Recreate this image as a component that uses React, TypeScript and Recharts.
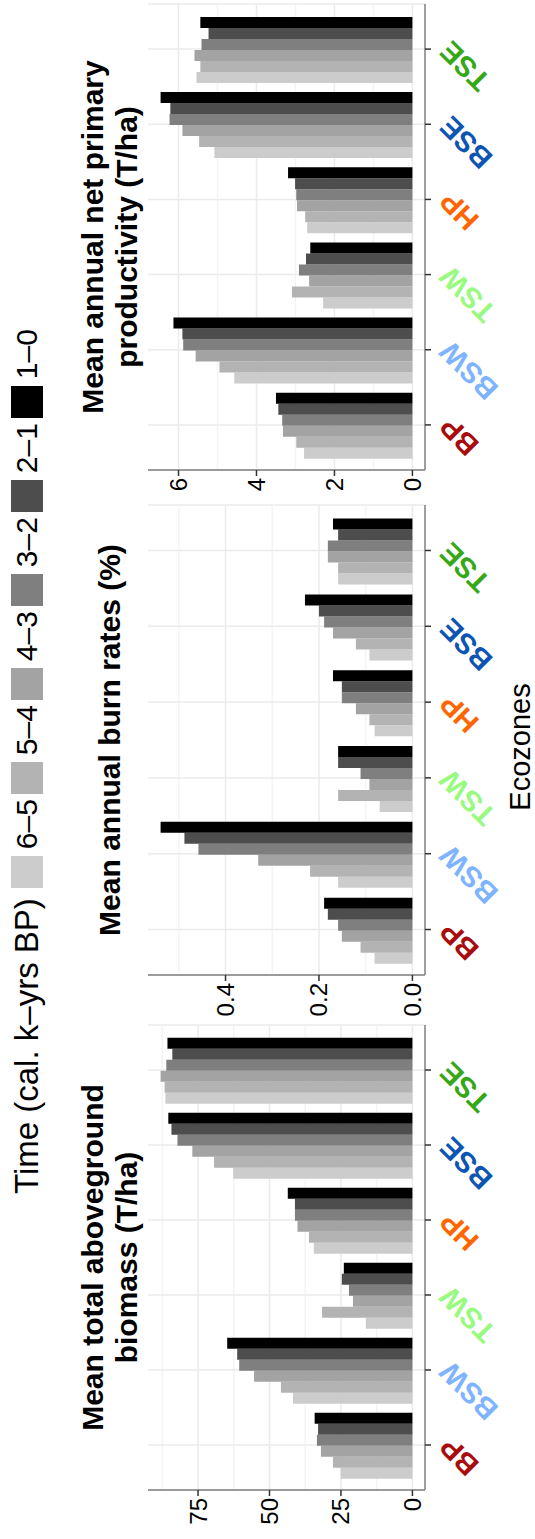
import { Bar, BarChart, CartesianGrid, XAxis, YAxis } from 'recharts';

const FRAME_W = 1539;
const FRAME_H = 535;
const PLOT_TOP = 148;
const PLOT_BOTTOM = 425;
const Y_AXIS_W = 60;
const X_AXIS_H = 70;
const FONT = "'Liberation Sans', Arial, Helvetica, sans-serif";

const ecozones = ['BP', 'BSW', 'TSW', 'HP', 'BSE', 'TSE'];
const ecozoneColors = ['#A80C0C', '#7DB3FF', '#99FA80', '#FF6600', '#0D55B3', '#36A818'];

const periods = ['6–5', '5–4', '4–3', '3–2', '2–1', '1–0'];
const periodColors = ['#CCCCCC', '#B3B3B3', '#A3A3A3', '#7F7F7F', '#4D4D4D', '#000000'];

// Mean total aboveground biomass (T/ha), one array per period, ordered like ecozones
const biomass65 = [25.1, 41.8, 16.3, 34.5, 62.7, 86.4];
const biomass54 = [27.8, 46.0, 31.6, 36.2, 69.4, 86.7];
const biomass43 = [32.0, 55.4, 20.8, 40.2, 77.0, 88.1];
const biomass32 = [33.4, 60.6, 22.2, 41.1, 82.2, 86.1];
const biomass21 = [33.0, 61.3, 24.7, 41.1, 84.3, 84.0];
const biomass10 = [34.2, 64.8, 24.0, 43.6, 85.4, 85.7];

// Mean annual burn rates (%)
const burn65 = [0.081, 0.159, 0.070, 0.081, 0.092, 0.159];
const burn54 = [0.111, 0.219, 0.159, 0.092, 0.121, 0.159];
const burn43 = [0.151, 0.330, 0.092, 0.121, 0.170, 0.181];
const burn32 = [0.159, 0.458, 0.111, 0.151, 0.189, 0.181];
const burn21 = [0.181, 0.488, 0.159, 0.151, 0.200, 0.159];
const burn10 = [0.189, 0.539, 0.159, 0.170, 0.230, 0.170];

// Mean annual net primary productivity (T/ha)
const npp65 = [2.78, 4.57, 2.29, 2.70, 5.08, 5.54];
const npp54 = [2.98, 4.95, 3.09, 2.75, 5.47, 5.44];
const npp43 = [3.32, 5.56, 2.65, 2.96, 5.90, 5.59];
const npp32 = [3.34, 5.88, 2.91, 2.98, 6.23, 5.41];
const npp21 = [3.44, 5.90, 2.73, 3.01, 6.21, 5.23];
const npp10 = [3.50, 6.13, 2.62, 3.19, 6.46, 5.44];

const biomassTicks = [0, 25, 50, 75];
const biomassMinor = [12.5, 37.5, 62.5, 87.5];
const burnTicks = [0, 0.2, 0.4];
const burnMinor = [0.1, 0.3, 0.5];
const nppTicks = [0, 2, 4, 6];
const nppMinor = [1, 3, 5];

const makeRows = (series: number[][]) =>
  ecozones.map((eco, i) => {
    const row: Record<string, string | number> = { eco };
    periods.forEach((p, j) => {
      row[p] = series[j][i];
    });
    return row;
  });

const biomassData = makeRows([biomass65, biomass54, biomass43, biomass32, biomass21, biomass10]);
const burnData = makeRows([burn65, burn54, burn43, burn32, burn21, burn10]);
const nppData = makeRows([npp65, npp54, npp43, npp32, npp21, npp10]);

const EcoTick = (props: any) => {
  const { x, y, payload } = props;
  const i = ecozones.indexOf(payload.value);
  const px = x + 10;
  const py = y + 19;
  return (
    <text
      x={px}
      y={py}
      transform={`rotate(-45 ${px} ${py})`}
      textAnchor="end"
      fill={ecozoneColors[i]}
      fontWeight="bold"
      fontSize={29}
      fontFamily={FONT}
    >
      {payload.value}
    </text>
  );
};

interface PanelProps {
  plotLeft: number;
  plotWidth: number;
  data: Record<string, string | number>[];
  max: number;
  ticks: number[];
  minor: number[];
  fmt: (v: number) => string;
  title: string[];
}

const Panel = ({ plotLeft, plotWidth, data, max, ticks, minor, fmt, title }: PanelProps) => {
  // ggplot style 5% expansion on the value axis, 0.6 units on the discrete axis
  const lo = -max * 0.05;
  const hi = max * 1.05;
  const pad = (plotWidth - (plotWidth / 6.2) * 6) / 2;
  const titleTop = title.length > 1 ? 76 : 93;
  return (
    <>
      <div
        style={{
          position: 'absolute',
          left: plotLeft,
          top: titleTop,
          width: plotWidth,
          textAlign: 'center',
          fontWeight: 'bold',
          fontSize: 30,
          lineHeight: '34px',
          whiteSpace: 'nowrap',
        }}
      >
        {title.map((t) => (
          <div key={t}>{t}</div>
        ))}
      </div>
      <div style={{ position: 'absolute', left: plotLeft - Y_AXIS_W, top: 0 }}>
        <BarChart
          width={plotWidth + Y_AXIS_W + 10}
          height={FRAME_H}
          data={data}
          margin={{ top: PLOT_TOP, right: 10, bottom: FRAME_H - PLOT_BOTTOM - X_AXIS_H, left: 0 }}
          barCategoryGap="5%"
          barGap={0}
        >
          <CartesianGrid vertical={false} horizontalValues={minor} stroke="#F4F4F4" strokeWidth={1.5} />
          <CartesianGrid horizontalValues={ticks} stroke="#EBEBEB" strokeWidth={1.5} />
          <XAxis
            dataKey="eco"
            height={X_AXIS_H}
            padding={{ left: pad, right: pad }}
            interval={0}
            tick={(p: any) => <EcoTick {...p} />}
            tickSize={6}
            tickLine={{ stroke: '#333333', strokeWidth: 1.5 }}
            axisLine={{ stroke: '#7F7F7F', strokeWidth: 1.5 }}
          />
          <XAxis
            xAxisId="top"
            orientation="top"
            dataKey="eco"
            height={0}
            tick={false}
            tickLine={false}
            axisLine={{ stroke: '#7F7F7F', strokeWidth: 1.5 }}
          />
          <YAxis
            width={Y_AXIS_W}
            domain={[lo, hi]}
            allowDataOverflow
            ticks={ticks}
            tickFormatter={fmt}
            tick={{ fontSize: 24, fill: '#000000', fontFamily: FONT }}
            tickSize={6}
            tickLine={{ stroke: '#333333', strokeWidth: 1.5 }}
            axisLine={{ stroke: '#7F7F7F', strokeWidth: 1.5 }}
          />
          <YAxis
            yAxisId="right"
            orientation="right"
            width={0}
            domain={[0, 1]}
            tick={false}
            tickLine={false}
            axisLine={{ stroke: '#7F7F7F', strokeWidth: 1.5 }}
          />
          {periods.map((p, i) => (
            <Bar key={p} dataKey={p} fill={periodColors[i]} isAnimationActive={false} />
          ))}
        </BarChart>
      </div>
    </>
  );
};

const maxOf = (rows: Record<string, string | number>[]) =>
  Math.max(...rows.flatMap((r) => periods.map((p) => Number(r[p]))));

export default function App() {
  return (
    <div
      style={{
        position: 'absolute',
        left: 0,
        top: 0,
        width: FRAME_H,
        height: FRAME_W,
        overflow: 'hidden',
        background: '#ffffff',
      }}
    >
      <div
        style={{
          position: 'absolute',
          left: 0,
          top: 0,
          width: FRAME_W,
          height: FRAME_H,
          transformOrigin: '0 0',
          transform: `translateY(${FRAME_W}px) rotate(-90deg)`,
          fontFamily: FONT,
          color: '#000000',
        }}
      >
        {/* legend */}
        <div
          style={{
            position: 'absolute',
            left: 345,
            top: 11,
            height: 32,
            display: 'flex',
            alignItems: 'center',
            fontSize: 30,
            lineHeight: '32px',
            whiteSpace: 'nowrap',
          }}
        >
          <span style={{ fontSize: 33, marginRight: 10 }}>Time (cal. k–yrs BP)</span>
          {periods.map((p, i) => (
            <div key={p} style={{ display: 'flex', alignItems: 'center', width: 94 }}>
              <div style={{ width: 32, height: 32, background: periodColors[i] }} />
              <span style={{ marginLeft: 7 }}>{p}</span>
            </div>
          ))}
        </div>

        <Panel
          plotLeft={49}
          plotWidth={465}
          data={biomassData}
          max={maxOf(biomassData)}
          ticks={biomassTicks}
          minor={biomassMinor}
          fmt={(v) => String(v)}
          title={['Mean total aboveground', 'biomass (T/ha)']}
        />
        <Panel
          plotLeft={564}
          plotWidth={470}
          data={burnData}
          max={maxOf(burnData)}
          ticks={burnTicks}
          minor={burnMinor}
          fmt={(v) => v.toFixed(1)}
          title={['Mean annual burn rates (%)']}
        />
        <Panel
          plotLeft={1069}
          plotWidth={466}
          data={nppData}
          max={maxOf(nppData)}
          ticks={nppTicks}
          minor={nppMinor}
          fmt={(v) => String(v)}
          title={['Mean annual net primary', 'productivity (T/ha)']}
        />

        <div
          style={{
            position: 'absolute',
            left: 49,
            top: 507,
            width: 1486,
            textAlign: 'center',
            fontSize: 29,
            lineHeight: '26px',
          }}
        >
          Ecozones
        </div>
      </div>
    </div>
  );
}
